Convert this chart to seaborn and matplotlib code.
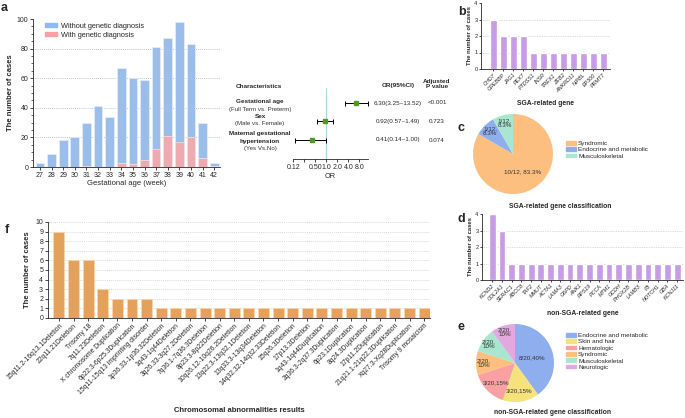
import numpy as np
import pandas as pd
import matplotlib
matplotlib.use("Agg")
import matplotlib.pyplot as plt
import seaborn as sns
from matplotlib.patches import Patch
from matplotlib.ticker import MultipleLocator

# ---- data ----
weeks = ["27", "28", "29", "30", "31", "32", "33", "34", "35", "36", "37", "38", "39", "40", "41", "42"]
without_dx = [3, 9, 18, 20, 29, 41, 34, 64, 58, 54, 69, 66, 81, 63, 24, 2]
with_dx = [0, 0, 0, 0, 1, 0, 0, 3, 2, 5, 12, 21, 17, 20, 6, 1]

forest_names = ["Gestational age", "Sex", "Maternal gestational\nhypertension"]
forest_sub = ["(Full Term vs. Preterm)", "(Male vs. Female)", "(Yes Vs.No)"]
or_val = [6.30, 0.92, 0.41]
or_lo = [3.25, 0.57, 0.14]
or_hi = [13.52, 1.49, 1.00]
or_text = ["6.30(3.25~13.52)", "0.92(0.57~1.49)", "0.41(0.14~1.00)"]
p_text = ["<0.001", "0.723", "0.074"]

sga_genes = ["CHD7", "CREBBP", "JAG1", "PEX7", "PTDSS1", "INSR", "TREX1", "ZEB2",
             "ANKRD11", "NIPBL", "EP300", "PRMT7"]
sga_counts = [3, 2, 2, 2, 1, 1, 1, 1, 1, 1, 1, 1]

sga_class = ["Syndromic", "Endocrine and metabolic", "Musculoskeletal"]
sga_class_n = [10, 1, 1]
sga_class_lbl = ["10/12, 83.3%", "1/12,\n8.3%", "1/12,\n8.3%"]

non_genes = ["KCND2", "COL2A1", "SERAC1", "ABCC8", "TAF2", "MMUT", "ACTA1", "LAMA3", "G6PD",
             "ANK1", "RPS19", "PCCA", "MTM1", "GCDH", "PHOX2B", "LAMB3", "F8", "NOTCH1",
             "GBA", "KCNJ11"]
non_counts = [4, 3, 1, 1, 1, 1, 1, 1, 1, 1, 1, 1, 1, 1, 1, 1, 1, 1, 1, 1]

non_class = ["Endocrine and metabolic", "Skin and hair", "Hematologic", "Syndromic",
             "Musculoskeletal", "Neurologic"]
non_class_n = [8, 3, 3, 2, 2, 2]
non_class_lbl = ["8/20,40%", "3/20,15%", "3/20,15%", "2/20,\n10%", "2/20,\n10%", "2/20,\n10%"]

chrom = ["15q11.2-16q13.1Deletion", "22q11.21Deletion", "Trisomy 18", "7q11.23Deletion",
         "X chromosome Duplication", "6p22.3-6p25.3Duplication", "15q11-15q13 imprinting disorder",
         "1p36.33-1p36.32Deletion", "1q43-1q44Deletion", "3q26.33-3q27.2Deletion",
         "7q36.1-7q36.3Deletion", "8p23.3-8p22Deletion", "10q26.12-10q26.2Deletion",
         "13q22.3-13q32.1Deletion", "13q33.3-13q34Deletion", "14q32.32-14q32.33Deletion",
         "15q26.3Deletion", "17p13.3Deletion", "1q43-1q44Duplication", "2q36.3-2q37.3Duplication",
         "6p23.1Duplication", "8q24.3Duplication", "17p11.2Duplication",
         "21q21.1-21q22.3Duplication", "Xq27.3-Xq28Duplication", "Trisomy 9 mosaicism"]
chrom_counts = [9, 6, 6, 3, 2, 2, 2, 1, 1, 1, 1, 1, 1, 1, 1, 1, 1, 1, 1, 1, 1, 1, 1, 1, 1, 1]

# ---- colours ----
BLUE = "#8DBBF6"
PINK = "#F8A0A5"
PURPLE = "#C98FF2"
ORANGE = "#FBA244"
sga_colors = ["#FDBF80", "#8FAEEE", "#A9E6CF"]
non_colors = ["#8FAEEE", "#F5E27A", "#F9A1A1", "#FDBF80", "#A9E6CF", "#E2A9E0"]

W, H = 685, 418

sns.set_theme(style="ticks")
plt.rcParams["font.family"] = ["Liberation Sans", "DejaVu Sans"]
plt.rcParams["axes.linewidth"] = 0.6
plt.rcParams["xtick.major.width"] = 0.6
plt.rcParams["ytick.major.width"] = 0.6
plt.rcParams["xtick.major.size"] = 2
plt.rcParams["ytick.major.size"] = 2

fig = plt.figure(figsize=(W / 100, H / 100), dpi=100)


def add_ax(x0, y0, x1, y1):
    # rectangle in pixels, measured from the top-left corner
    return fig.add_axes([x0 / W, 1 - y1 / H, (x1 - x0) / W, (y1 - y0) / H])


def ftext(x, y, s, **kw):
    fig.text(x / W, 1 - y / H, s, **kw)


def style_bar_ax(ax):
    sns.despine(ax=ax)
    ax.set_facecolor("none")


def gene_bars(ax, genes, counts, xlim, xlabel):
    sns.barplot(x=genes, y=counts, color=PURPLE, width=0.7, ax=ax)
    for v in [1, 2, 3]:
        ax.axhline(v, color="#bbbbbb", lw=0.5, ls=(0, (1, 1.5)), zorder=0)
    ax.set_xlim(*xlim)
    ax.set_ylim(0, 4)
    ax.set_yticks([0, 1, 2, 3, 4])
    ax.tick_params(axis="y", labelsize=4, pad=1, length=1.5)
    ax.tick_params(axis="x", labelsize=3.9, pad=1, length=1.5)
    plt.setp(ax.get_xticklabels(), rotation=45, ha="right", rotation_mode="anchor", style="italic")
    ax.set_xlabel(xlabel, fontsize=4.9, fontweight="bold", labelpad=5)
    ax.set_ylabel("The number of cases", fontsize=4.2, fontweight="bold", labelpad=1.5)
    style_bar_ax(ax)


def draw_pie(cx, cy, r, sizes, colors, labels, dists):
    ax = add_ax(cx - r, cy - r, cx + r, cy + r)
    wedges, _ = ax.pie(sizes, colors=colors, startangle=90, counterclock=False,
                       wedgeprops=dict(linewidth=0))
    for w, lbl, d in zip(wedges, labels, dists):
        ang = np.deg2rad((w.theta1 + w.theta2) / 2)
        ax.text(d * np.cos(ang), d * np.sin(ang), lbl, ha="center", va="center",
                fontsize=4.5, color="#333333", linespacing=0.95)
    ax.set_xlim(-1, 1)
    ax.set_ylim(-1, 1)
    return ax


def pie_legend(labels, colors, x, y):
    fig.legend(handles=[Patch(color=c, label=l) for c, l in zip(colors, labels)],
               loc="upper left", bbox_to_anchor=(x / W, 1 - y / H), frameon=False, fontsize=4.6,
               handlelength=1.5, handleheight=0.5, handletextpad=0.4, labelspacing=0.2,
               borderpad=0, borderaxespad=0)


# ---- a: stacked bars ----
ax = add_ax(33, 19, 220, 167)
totals = [a + b for a, b in zip(without_dx, with_dx)]
sns.barplot(x=weeks, y=totals, color=BLUE, width=0.75, edgecolor="#e8f0fb", linewidth=0.5, ax=ax)
sns.barplot(x=weeks, y=with_dx, color=PINK, width=0.75, edgecolor="#fde3e4", linewidth=0.5, ax=ax)
for v in [20, 40, 60, 80]:
    ax.axhline(v, color="#aaaaaa", lw=0.6, ls=(0, (1, 1.5)), zorder=0)
ax.set_xlim(-0.6, 15.5)
ax.set_ylim(0, 100)
ax.yaxis.set_major_locator(MultipleLocator(20))
ax.yaxis.set_minor_locator(MultipleLocator(5))
ax.tick_params(axis="y", which="minor", length=1.2, width=0.5)
ax.tick_params(labelsize=5, pad=1.5)
ax.set_xlabel("Gestational age (week)", fontsize=5.5, labelpad=1)
ax.set_ylabel("The number of cases", fontsize=5.5, fontweight="bold", labelpad=2)
style_bar_ax(ax)
ax.legend(handles=[Patch(color=BLUE, label="Without genetic diagnosis"),
                   Patch(color=PINK, label="With genetic diagnosis")],
          loc="upper left", bbox_to_anchor=(0.03, 1.02), frameon=False, fontsize=5.3,
          handlelength=1.6, handleheight=0.6, handletextpad=0.5, labelspacing=0.25)
ftext(1, 11, "a", fontsize=9, fontweight="bold")

# ---- forest plot ----
ax = add_ax(293.3, 88, 367.7, 159)
ypos = np.arange(len(or_val))
xerr = [np.array(or_val) - np.array(or_lo), np.array(or_hi) - np.array(or_val)]
ax.axvline(1, color="#A6DCE2", lw=0.9, zorder=0)
ax.errorbar(or_val, ypos, xerr=xerr, fmt="s", color="black", ecolor="black", elinewidth=0.7,
            capsize=1.8, capthick=0.7, markersize=3.2, markerfacecolor="#4E9A1E",
            markeredgecolor="#4E9A1E")
ax.set_xscale("log", base=2)
ax.set_xlim(0.125, 13.52)
ax.set_ylim(3.03, -0.81)
ax.set_xticks([0.125, 0.25, 0.5, 1, 2, 4, 8])
ax.set_xticklabels(["0.12", "", "0.50", "1.0", "2.0", "4.0", "8.0"])
ax.xaxis.set_minor_locator(plt.NullLocator())
ax.set_yticks([])
ax.tick_params(axis="x", labelsize=5, pad=1.5)
ax.set_xlabel("OR", fontsize=5.3, labelpad=1.5)
for s in ["top", "right", "left"]:
    ax.spines[s].set_visible(False)
ax.set_facecolor("none")

ftext(259, 87, "Characteristics", fontsize=4.6, fontweight="bold", ha="center", va="center")
ftext(398, 85, "OR(95%CI)", fontsize=4.6, fontweight="bold", ha="center", va="center")
ftext(437, 84, "Adjusted\nP value", fontsize=4.6, fontweight="bold", ha="center", va="center",
      linespacing=0.8)
row_y = [103, 121.5, 140]
name_y = [[101], [117], [133, 141]]
sub_y = [109, 124, 149]
for i in range(3):
    parts = forest_names[i].split("\n")
    for part, yy in zip(parts, name_y[i]):
        ftext(260, yy, part, fontsize=4.6, fontweight="bold", ha="center", va="center")
    ftext(260, sub_y[i], forest_sub[i], fontsize=4.4, ha="center", va="center", color="#333333")
    ftext(398, row_y[i], or_text[i], fontsize=4.5, ha="center", va="center")
    ftext(437, row_y[i], p_text[i], fontsize=4.5, ha="center", va="center")

# ---- b: SGA-related genes ----
ax = add_ax(481, 3, 610, 69)
gene_bars(ax, sga_genes, sga_counts, (-1.2, 11.7), "SGA-related gene")
ftext(458, 15, "b", fontsize=9, fontweight="bold")

# ---- c: pie ----
draw_pie(513, 154, 40, sga_class_n, sga_colors, sga_class_lbl, [0.5, 0.8, 0.8])
pie_legend(sga_class, sga_colors, 566, 141)
ftext(560, 206, "SGA-related gene classification", fontsize=4.9, fontweight="bold",
      ha="center", va="center")
ftext(458, 131, "c", fontsize=9, fontweight="bold")

# ---- d: non-SGA-related genes ----
ax = add_ax(482, 214, 683, 280)
gene_bars(ax, non_genes, non_counts, (-1.05, 19.6), "non-SGA-related gene")
ftext(458, 222, "d", fontsize=9, fontweight="bold")

# ---- e: pie ----
draw_pie(515, 363, 39, non_class_n, non_colors, non_class_lbl,
         [0.45, 0.72, 0.7, 0.8, 0.82, 0.82])
pie_legend(non_class, non_colors, 566, 333)
ftext(553, 412, "non-SGA-related gene classification", fontsize=4.9, fontweight="bold",
      ha="center", va="center")
ftext(458, 330, "e", fontsize=9, fontweight="bold")

# ---- f: chromosomal abnormalities ----
ax = add_ax(48, 222, 430, 318)
sns.barplot(x=chrom, y=chrom_counts, color=ORANGE, width=0.75, edgecolor="#fdd9b0",
            linewidth=0.4, ax=ax)
for v in range(1, 11):
    ax.axhline(v, color="#cccccc", lw=0.5, ls=(0, (1.5, 1.5)), zorder=0)
ax.set_xlim(-0.75, 25.4)
ax.set_ylim(0, 10)
ax.set_yticks(range(0, 11))
ax.tick_params(axis="y", labelsize=5, pad=1.5)
ax.tick_params(axis="x", labelsize=4.9, pad=1)
plt.setp(ax.get_xticklabels(), rotation=45, ha="right", rotation_mode="anchor")
ax.set_xlabel("Chromosomal abnormalities results", fontsize=5.5, fontweight="bold", labelpad=8)
ax.set_ylabel("The number of cases", fontsize=5.5, fontweight="bold", labelpad=3)
style_bar_ax(ax)
ftext(5, 233, "f", fontsize=9, fontweight="bold")

fig.savefig("out.png", dpi=100)
